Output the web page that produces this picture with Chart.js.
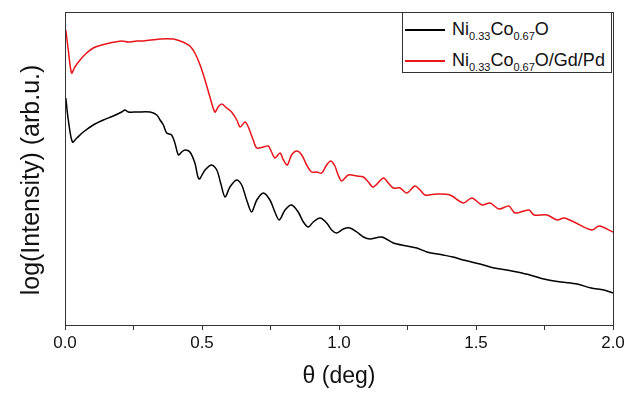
<!DOCTYPE html>
<html>
<head>
<meta charset="utf-8">
<script src="https://cdn.jsdelivr.net/npm/chart.js@4"></script>
<style>
    body { margin: 0; background: #fff; }
    #wrap { position: relative; width: 629px; height: 394px; }
    #legend {
        position: absolute; left: 402px; top: 12px; width: 210px; height: 61px;
        border: 1px solid #333; background: #fff; box-sizing: border-box;
        font-family: 'Liberation Sans', Arial, sans-serif; font-size: 18px; color: #111;
    }
    .row { position: absolute; left: 2px; height: 22px; line-height: 22px; white-space: nowrap; }
    .swatch { display: inline-block; width: 40px; height: 2px; margin-right: 7px; vertical-align: middle; }
    .row sub { font-size: 11px; vertical-align: -5px; line-height: 0; }
</style>
</head>
<body>
<div id="wrap">
    <canvas id="xrr" width="629" height="394"></canvas>
    <div id="legend">
        <div class="row" style="top:5px"><span class="swatch" style="background:#000"></span><span>Ni<sub>0.33</sub>Co<sub>0.67</sub>O</span></div>
        <div class="row" style="top:36px"><span class="swatch" style="background:#e8141a"></span><span>Ni<sub>0.33</sub>Co<sub>0.67</sub>O/Gd/Pd</span></div>
    </div>
</div>
<script>
// theta (deg) and log intensity (arb. units)
const thetaBare = [0.003, 0.012, 0.027, 0.043, 0.067, 0.103, 0.140, 0.176, 0.207, 0.219, 0.231, 0.262, 0.310,
    0.335, 0.347, 0.359, 0.371, 0.389, 0.401, 0.414, 0.426, 0.438, 0.456, 0.474, 0.489, 0.511, 0.535, 0.554,
    0.568, 0.584, 0.602, 0.627, 0.645, 0.663, 0.681, 0.700, 0.724, 0.748, 0.766, 0.782, 0.803, 0.827, 0.851,
    0.870, 0.888, 0.906, 0.931, 0.955, 0.973, 0.992, 1.016, 1.040, 1.065, 1.089, 1.113, 1.156, 1.198, 1.247,
    1.284, 1.321, 1.380, 1.416, 1.453, 1.515, 1.566, 1.613, 1.650, 1.697, 1.748, 1.810, 1.869, 1.920, 1.967, 2.000];
const logIntBare = [2.27, 2.05, 1.83, 1.87, 1.93, 2.00, 2.05, 2.09, 2.13, 2.15, 2.13, 2.13, 2.13,
    2.10, 2.05, 2.00, 1.92, 1.90, 1.82, 1.70, 1.73, 1.75, 1.73, 1.62, 1.46, 1.55, 1.60, 1.55,
    1.42, 1.28, 1.38, 1.45, 1.40, 1.25, 1.13, 1.25, 1.32, 1.25, 1.13, 1.05, 1.15, 1.20, 1.13,
    1.03, 0.98, 1.03, 1.07, 1.02, 0.95, 0.92, 0.96, 0.97, 0.93, 0.88, 0.86, 0.88, 0.82, 0.79,
    0.77, 0.73, 0.70, 0.68, 0.65, 0.61, 0.57, 0.55, 0.53, 0.50, 0.46, 0.43, 0.41, 0.37, 0.35, 0.32];

const thetaCapped = [0.003, 0.012, 0.024, 0.036, 0.055, 0.079, 0.103, 0.134, 0.164, 0.207, 0.231, 0.262, 0.286,
    0.347, 0.395, 0.420, 0.438, 0.456, 0.474, 0.493, 0.511, 0.529, 0.547, 0.559, 0.572, 0.590, 0.608, 0.627,
    0.639, 0.657, 0.669, 0.687, 0.700, 0.724, 0.742, 0.754, 0.766, 0.785, 0.797, 0.811, 0.827, 0.846, 0.864,
    0.882, 0.900, 0.919, 0.937, 0.955, 0.970, 0.985, 0.997, 1.010, 1.034, 1.065, 1.089, 1.107, 1.125, 1.162,
    1.180, 1.198, 1.223, 1.247, 1.277, 1.296, 1.314, 1.358, 1.405, 1.453, 1.485, 1.522, 1.551, 1.584, 1.620,
    1.642, 1.693, 1.712, 1.759, 1.796, 1.821, 1.858, 1.923, 1.949, 2.000];
const logIntCapped = [2.95, 2.75, 2.52, 2.58, 2.65, 2.72, 2.77, 2.80, 2.82, 2.84, 2.83, 2.84, 2.84,
    2.86, 2.86, 2.84, 2.82, 2.79, 2.72, 2.60, 2.45, 2.28, 2.13, 2.18, 2.21, 2.17, 2.13, 2.05,
    1.98, 2.03, 1.98, 1.85, 1.77, 1.78, 1.79, 1.73, 1.67, 1.72, 1.65, 1.60, 1.70, 1.74, 1.70,
    1.60, 1.53, 1.53, 1.52, 1.60, 1.64, 1.59, 1.50, 1.44, 1.50, 1.49, 1.48, 1.43, 1.38, 1.47,
    1.42, 1.37, 1.37, 1.32, 1.39, 1.35, 1.30, 1.31, 1.30, 1.22, 1.27, 1.20, 1.22, 1.16, 1.19,
    1.12, 1.15, 1.10, 1.10, 1.05, 1.07, 1.03, 0.95, 0.99, 0.93];

const seriesNames = ['Ni0.33Co0.67O', 'Ni0.33Co0.67O/Gd/Pd'];
const xTickValues = [0, 0.5, 1.0, 1.5, 2.0];

const FONT = "'Liberation Sans', Arial, sans-serif";
const INK = '#111';
const AXIS = '#333';

function toPoints(xs, ys) {
    return xs.map((x, i) => ({ x: x, y: ys[i] }));
}

// box around the plot plus the rotated y title
const framePlugin = {
    id: 'frame',
    afterDraw(chart) {
        const { ctx, chartArea: a } = chart;
        ctx.save();
        ctx.strokeStyle = AXIS;
        ctx.lineWidth = 1;
        ctx.strokeRect(a.left + 0.5, a.top + 0.5, a.right - a.left, a.bottom - a.top);
        ctx.translate(32, 180);
        ctx.rotate(-Math.PI / 2);
        ctx.fillStyle = INK;
        ctx.font = '25px ' + FONT;
        ctx.textAlign = 'center';
        ctx.textBaseline = 'middle';
        ctx.fillText('log(Intensity) (arb.u.)', 0, 0);
        ctx.restore();
    }
};

const ctx = document.getElementById('xrr').getContext('2d');
new Chart(ctx, {
    type: 'line',
    data: {
        datasets: [
            {
                label: seriesNames[0],
                data: toPoints(thetaBare, logIntBare),
                borderColor: '#000',
                borderWidth: 1.5,
                pointRadius: 0,
                tension: 0.3
            },
            {
                label: seriesNames[1],
                data: toPoints(thetaCapped, logIntCapped),
                borderColor: '#e8141a',
                borderWidth: 1.5,
                pointRadius: 0,
                tension: 0.3
            }
        ]
    },
    options: {
        responsive: false,
        animation: false,
        layout: { padding: { top: 12, right: 16, left: 0, bottom: 0 } },
        plugins: {
            legend: { display: false },
            tooltip: { enabled: false }
        },
        scales: {
            x: {
                type: 'linear',
                min: 0,
                max: 2,
                afterFit(scale) { scale.height = 69; },
                border: { display: true, color: AXIS, width: 1 },
                grid: { display: true, drawOnChartArea: false, drawTicks: true, tickLength: 5, color: AXIS },
                ticks: {
                    stepSize: 0.25,
                    autoSkip: false,
                    maxRotation: 0,
                    padding: 3,
                    color: INK,
                    font: { family: FONT, size: 17 },
                    callback: (v) => xTickValues.some(t => Math.abs(t - v) < 1e-6) ? v.toFixed(1) : ''
                },
                title: {
                    display: true,
                    text: 'θ (deg)',
                    color: INK,
                    font: { family: FONT, size: 23 },
                    padding: { top: 0, bottom: 4 }
                }
            },
            y: {
                min: 0,
                max: 3.13,
                afterFit(scale) { scale.width = 65; },
                border: { display: true, color: AXIS, width: 1 },
                grid: { display: false },
                ticks: { display: false }
            }
        }
    },
    plugins: [framePlugin]
});
</script>
</body>
</html>
